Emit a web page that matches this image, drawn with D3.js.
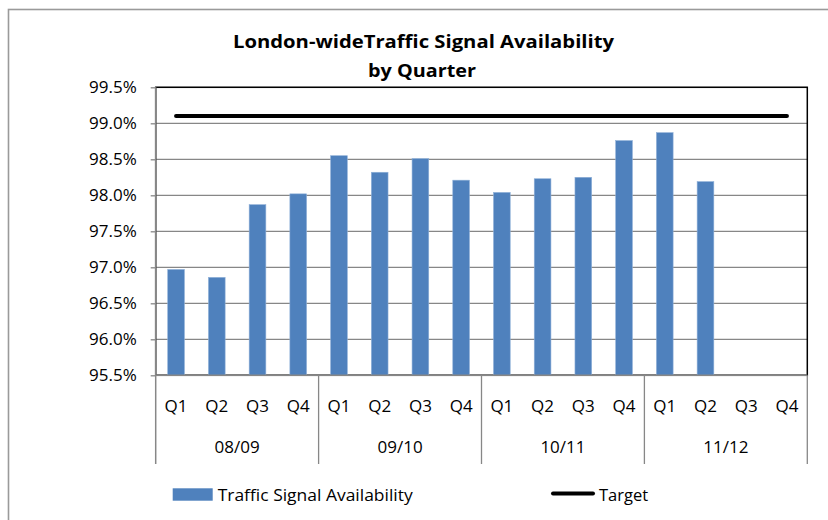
<!DOCTYPE html>
<html>
<head>
<meta charset="utf-8">
<script src="https://cdn.jsdelivr.net/npm/d3@7"></script>
<style>
  body { margin: 0; background: #fff; }
  svg text { font-family: "Open Sans", Lato, sans-serif; fill: #000; }
</style>
</head>
<body>
<div id="chart"></div>
<script>
// chart data
var years = ["08/09", "09/10", "10/11", "11/12"];
var quarters = ["Q1", "Q2", "Q3", "Q4"];
var availability = [96.97, 96.86, 97.87, 98.02, 98.55, 98.32, 98.51, 98.21, 98.04, 98.23, 98.25, 98.76, 98.87, 98.19, null, null];
var target = [99.1, 99.1, 99.1, 99.1, 99.1, 99.1, 99.1, 99.1, 99.1, 99.1, 99.1, 99.1, 99.1, 99.1, 99.1, 99.1];
var yTicks = [95.5, 96.0, 96.5, 97.0, 97.5, 98.0, 98.5, 99.0, 99.5];

var width = 828, height = 520;
var plot = { left: 155.7, right: 807.3, top: 87.3, bottom: 375.3 };

var svg = d3.select("#chart").append("svg")
    .attr("width", width)
    .attr("height", height);

// outer chart border (runs off right / bottom edge)
svg.append("rect")
    .attr("x", 8.5).attr("y", 9.5)
    .attr("width", 840).attr("height", 530)
    .attr("fill", "#fff")
    .attr("stroke", "#9a9a9a")
    .attr("stroke-width", 1.6);

// one category per quarter
var cats = [];
years.forEach(function(yr) {
    quarters.forEach(function(q) { cats.push(yr + " " + q); });
});

var x = d3.scaleBand()
    .domain(cats)
    .range([plot.left, plot.right])
    .paddingInner(0.59)
    .paddingOuter(0.295);

var xGroup = d3.scaleBand()
    .domain(years)
    .range([plot.left, plot.right]);

var y = d3.scaleLinear()
    .domain([95.5, 99.5])
    .range([plot.bottom, plot.top]);

// gridlines
svg.append("g")
    .selectAll("line")
    .data(yTicks)
    .enter().append("line")
    .attr("x1", plot.left).attr("x2", plot.right)
    .attr("y1", function(d) { return y(d); })
    .attr("y2", function(d) { return y(d); })
    .attr("stroke", "#878787")
    .attr("stroke-width", 1.3);

// plot area border
svg.append("rect")
    .attr("x", plot.left).attr("y", plot.top)
    .attr("width", plot.right - plot.left)
    .attr("height", plot.bottom - plot.top)
    .attr("fill", "none")
    .attr("stroke", "#000")
    .attr("stroke-width", 1.5);

// bars
var barData = cats.map(function(c, i) { return { cat: c, v: availability[i] }; })
    .filter(function(d) { return d.v != null; });

svg.append("g")
    .selectAll("rect")
    .data(barData)
    .enter().append("rect")
    .attr("x", function(d) { return x(d.cat); })
    .attr("y", function(d) { return y(d.v); })
    .attr("width", x.bandwidth())
    .attr("height", function(d) { return plot.bottom - y(d.v); })
    .attr("fill", "#4f81bd")
    .attr("stroke", "#8fb0d8")
    .attr("stroke-width", 0.6);

// target line
var line = d3.line()
    .x(function(d, i) { return x(cats[i]) + x.bandwidth() / 2; })
    .y(function(d) { return y(d); });

svg.append("path")
    .datum(target)
    .attr("d", line)
    .attr("fill", "none")
    .attr("stroke", "#000")
    .attr("stroke-width", 4)
    .attr("stroke-linecap", "round");

// y axis
var yAxis = svg.append("g")
    .attr("transform", "translate(" + plot.left + ",0)")
    .call(d3.axisLeft(y)
        .tickValues(yTicks)
        .tickSize(5)
        .tickPadding(14)
        .tickFormat(function(d) { return d3.format(".1f")(d) + "%"; }));
yAxis.select(".domain").remove();
yAxis.selectAll(".tick line").attr("stroke", "#878787").attr("stroke-width", 1.3);
yAxis.selectAll(".tick text")
    .style("font-size", "17px")
    .attr("fill", "#000");

svg.append("line")
    .attr("x1", plot.left).attr("x2", plot.left)
    .attr("y1", plot.top).attr("y2", 464)
    .attr("stroke", "#878787")
    .attr("stroke-width", 1.5);

// x axis line
svg.append("line")
    .attr("x1", plot.left).attr("x2", plot.right)
    .attr("y1", plot.bottom).attr("y2", plot.bottom)
    .attr("stroke", "#878787")
    .attr("stroke-width", 1.5);

// group separators
svg.append("g")
    .selectAll("line")
    .data(years)
    .enter().append("line")
    .attr("x1", function(d) { return xGroup(d) + xGroup.bandwidth(); })
    .attr("x2", function(d) { return xGroup(d) + xGroup.bandwidth(); })
    .attr("y1", plot.bottom).attr("y2", 464)
    .attr("stroke", "#878787")
    .attr("stroke-width", 1.3);

// quarter labels
svg.append("g")
    .selectAll("text")
    .data(cats)
    .enter().append("text")
    .attr("x", function(d) { return x(d) + x.bandwidth() / 2; })
    .attr("y", 411.5)
    .attr("text-anchor", "middle")
    .style("font-size", "17px")
    .text(function(d) { return d.split(" ")[1]; });

// year labels
svg.append("g")
    .selectAll("text")
    .data(years)
    .enter().append("text")
    .attr("x", function(d) { return xGroup(d) + xGroup.bandwidth() / 2; })
    .attr("y", 452.5)
    .attr("text-anchor", "middle")
    .style("font-size", "17px")
    .text(function(d) { return d; });

// title, stretched to the width seen in the reference
var title = svg.append("text")
    .attr("text-anchor", "middle")
    .style("font-size", "18.5px")
    .style("font-weight", "bold");
title.append("tspan").attr("x", 423.5).attr("y", 48)
    .attr("textLength", 381).attr("lengthAdjust", "spacingAndGlyphs")
    .text("London-wideTraffic Signal Availability");
title.append("tspan").attr("x", 422).attr("y", 77)
    .attr("textLength", 108).attr("lengthAdjust", "spacingAndGlyphs")
    .text("by Quarter");

// legend
var legend = svg.append("g");
legend.append("rect")
    .attr("x", 172.7).attr("y", 488.3)
    .attr("width", 40).attr("height", 12.4)
    .attr("fill", "#4f81bd");
legend.append("text")
    .attr("x", 217.7).attr("y", 501)
    .style("font-size", "16.5px")
    .attr("textLength", 195).attr("lengthAdjust", "spacingAndGlyphs")
    .text("Traffic Signal Availability");
legend.append("line")
    .attr("x1", 553).attr("x2", 593)
    .attr("y1", 493.5).attr("y2", 493.5)
    .attr("stroke", "#000")
    .attr("stroke-width", 4)
    .attr("stroke-linecap", "round");
legend.append("text")
    .attr("x", 599).attr("y", 501)
    .style("font-size", "16.5px")
    .text("Target");
</script>
</body>
</html>
